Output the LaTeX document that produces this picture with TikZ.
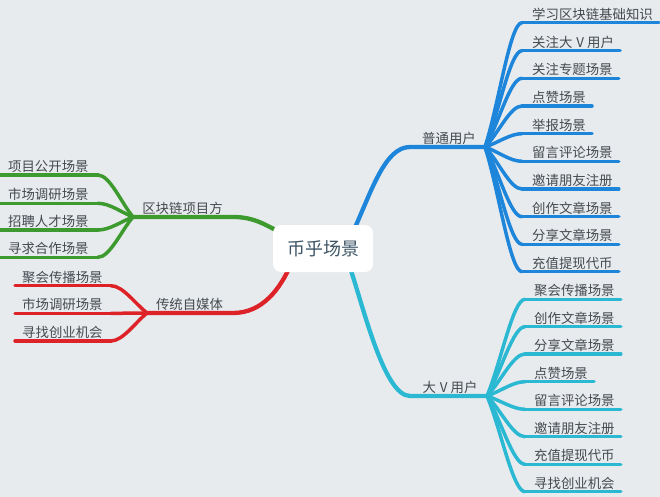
\documentclass[tikz,border=0pt]{standalone}
\usepackage{fontspec}
\setmainfont{Noto Sans CJK SC}
\usetikzlibrary{calc}
\definecolor{bg}{HTML}{E8EBEE}
\definecolor{cblue}{HTML}{1E86DA}
\definecolor{cteal}{HTML}{2BB8D2}
\definecolor{cgreen}{HTML}{3C9A2E}
\definecolor{cred}{HTML}{DD2228}
\definecolor{ctext}{HTML}{444A50}
\definecolor{ccenter}{HTML}{3D5566}
\tikzset{
  leaf/.style={inner sep=0pt, text=ctext, font=\fontsize{13.4}{16}\selectfont},
  lab/.style={inner sep=0pt, text=ctext, font=\fontsize{13.4}{16}\selectfont},
  twig/.style={line width=3.5pt, line cap=round},
  limb/.style={line width=4.3pt, line cap=round},
}
\newcommand{\bigV}{\hspace{4pt}V\hspace{3pt}}
\begin{document}
\begin{tikzpicture}[x=1pt,y=-1pt]
\fill[bg] (0,0) rectangle (660,497);
\useasboundingbox (0,0) rectangle (660,497);

\coordinate (cc) at (323,248.5);

% ---------------- blue branch -----------------
\coordinate (pl) at (410,147);
\coordinate (ph) at (485,147);
\draw[limb, cblue] (353,232) .. controls (372,190) and (385,147) .. (pl) -- (ph);
\node[lab, anchor=base] (pt) at (449,143) {普通用户};
\foreach \i/\y/\t in {1/22.7/学习区块链基础知识, 2/50.7/关注大\bigV 用户, 3/78.3/关注专题场景,
  4/106/点赞场景, 5/133.7/举报场景, 6/161.3/留言评论场景, 7/189/邀请朋友注册,
  8/216.7/创作文章场景, 9/244.3/分享文章场景, 10/271.7/充值提现代币}{
  \coordinate (u\i) at (522,\y);
  \node[leaf, anchor=base west] (ut\i) at ($(u\i)+(10,-3.5)$) {\t};
  \draw[twig, cblue] (u\i) -- ($(ut\i.base east)+(6,3.5)$);
  \pgfmathsetmacro\cy{147+0.35*(\y-147)}
  \draw[twig, cblue] (ph) .. controls (499,\cy) and (510,\y) .. (u\i);
}

% ---------------- teal branch -----------------
\coordinate (vl) at (410,396);
\coordinate (vh) at (487,396);
\draw[limb, cteal] (348,262) .. controls (362,300) and (383,396) .. (vl) -- (vh);
\node[lab, anchor=base] (vt) at (450,392) {大\bigV 用户};
\foreach \i/\y/\t in {1/299.3/聚会传播场景, 2/326.7/创作文章场景, 3/354/分享文章场景,
  4/381.7/点赞场景, 5/409.3/留言评论场景, 6/436.7/邀请朋友注册,
  7/464.3/充值提现代币, 8/491.7/寻找创业机会}{
  \coordinate (v\i) at (525,\y);
  \node[leaf, anchor=base west] (vt\i) at ($(v\i)+(9,-3.5)$) {\t};
  \draw[twig, cteal] (v\i) -- ($(vt\i.base east)+(6,3.5)$);
  \pgfmathsetmacro\cy{396+0.35*(\y-396)}
  \draw[twig, cteal] (vh) .. controls (501,\cy) and (513,\y) .. (v\i);
}

% ---------------- green branch -----------------
\coordinate (gl) at (233,217);
\coordinate (gh) at (133,217);
\draw[limb, cgreen] (290,238) .. controls (266,225) and (255,217) .. (gl) -- (gh);
\node[lab, anchor=base] (gt) at (182.5,213) {区块链项目方};
\foreach \i/\y/\t in {1/175/项目公开场景, 2/203.3/市场调研场景, 3/230/招聘人才场景, 4/257.3/寻求合作场景}{
  \node[leaf, anchor=base west] (gt\i) at (8,\y-3.5) {\t};
  \coordinate (g\i) at ($(gt\i.base east)+(9,3.5)$);
  \draw[twig, cgreen] ($(gt\i.base west)+(-8,3.5)$) -- (g\i);
  \pgfmathsetmacro\cy{217+0.35*(\y-217)}
  \draw[twig, cgreen] (gh) .. controls (121,\cy) and ($(g\i)+(12,0)$) .. (g\i);
}

% ---------------- red branch -----------------
\coordinate (rl) at (233,313);
\coordinate (rh) at (147,313);
\draw[limb, cred] (292,262) .. controls (280,290) and (262,313) .. (rl) -- (rh);
\node[lab, anchor=base] (rt) at (189.5,309) {传统自媒体};
\foreach \i/\y/\t in {1/285.7/聚会传播场景, 2/313.3/市场调研场景, 3/341/寻找创业机会}{
  \node[leaf, anchor=base west] (rt\i) at (22,\y-3.5) {\t};
  \coordinate (r\i) at ($(rt\i.base east)+(8,3.5)$);
  \draw[twig, cred] ($(rt\i.base west)+(-7,3.5)$) -- (r\i);
  \pgfmathsetmacro\cy{313+0.35*(\y-313)}
  \draw[twig, cred] (rh) .. controls (135,\cy) and ($(r\i)+(12,0)$) .. (r\i);
}

% ---------------- centre -----------------
\node[fill=white, rounded corners=8pt, minimum width=100pt, minimum height=47pt,
  inner sep=0pt, text=ccenter, font=\fontsize{18}{22}\selectfont] (c) at (cc) {币乎场景};
\end{tikzpicture}
\end{document}
